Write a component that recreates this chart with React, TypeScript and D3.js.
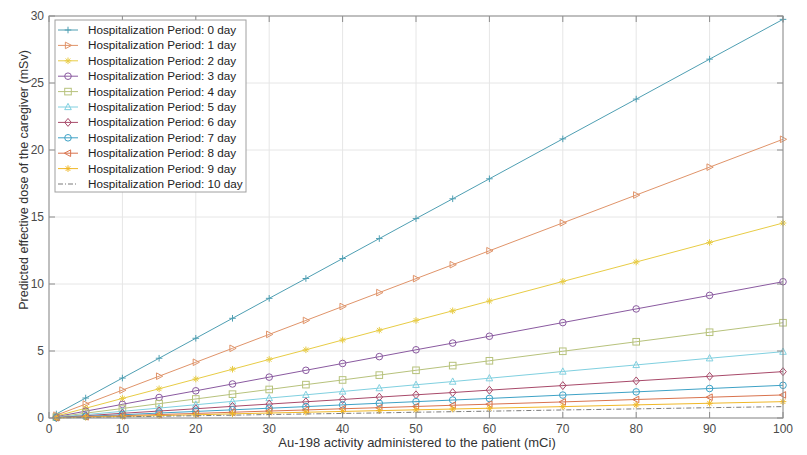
import React from "react";
import * as d3 from "d3";

const xValues = [1, 5, 10, 15, 20, 25, 30, 35, 40, 45, 50, 55, 60, 70, 80, 90, 100];

const day0 = [0.30, 1.49, 2.98, 4.46, 5.95, 7.44, 8.93, 10.41, 11.90, 13.39, 14.88, 16.36, 17.85, 20.83, 23.80, 26.78, 29.75];
const day1 = [0.21, 1.04, 2.08, 3.12, 4.16, 5.20, 6.24, 7.28, 8.32, 9.36, 10.40, 11.44, 12.48, 14.56, 16.64, 18.72, 20.80];
const day2 = [0.15, 0.73, 1.46, 2.18, 2.91, 3.64, 4.37, 5.09, 5.82, 6.55, 7.28, 8.00, 8.73, 10.19, 11.64, 13.10, 14.55];
const day3 = [0.10, 0.51, 1.02, 1.53, 2.03, 2.54, 3.05, 3.56, 4.07, 4.58, 5.09, 5.59, 6.10, 7.12, 8.14, 9.15, 10.17];
const day4 = [0.07, 0.36, 0.71, 1.07, 1.42, 1.78, 2.13, 2.49, 2.84, 3.20, 3.56, 3.91, 4.27, 4.98, 5.69, 6.40, 7.11];
const day5 = [0.05, 0.25, 0.50, 0.74, 0.99, 1.24, 1.49, 1.73, 1.98, 2.23, 2.48, 2.72, 2.97, 3.47, 3.96, 4.46, 4.95];
const day6 = [0.03, 0.17, 0.35, 0.52, 0.69, 0.87, 1.04, 1.21, 1.38, 1.56, 1.73, 1.90, 2.08, 2.42, 2.77, 3.11, 3.46];
const day7 = [0.02, 0.12, 0.24, 0.37, 0.49, 0.61, 0.73, 0.85, 0.98, 1.10, 1.22, 1.34, 1.46, 1.71, 1.95, 2.20, 2.44];
const day8 = [0.02, 0.09, 0.17, 0.26, 0.34, 0.43, 0.52, 0.60, 0.69, 0.77, 0.86, 0.95, 1.03, 1.20, 1.38, 1.55, 1.72];
const day9 = [0.01, 0.06, 0.12, 0.18, 0.24, 0.31, 0.37, 0.43, 0.49, 0.55, 0.61, 0.67, 0.73, 0.85, 0.98, 1.10, 1.22];
const day10 = [0.01, 0.04, 0.09, 0.13, 0.17, 0.21, 0.26, 0.30, 0.34, 0.38, 0.43, 0.47, 0.51, 0.60, 0.68, 0.77, 0.85];

const seriesValues = [day0, day1, day2, day3, day4, day5, day6, day7, day8, day9, day10];
const seriesNames = [
  "Hospitalization Period: 0 day",
  "Hospitalization Period: 1 day",
  "Hospitalization Period: 2 day",
  "Hospitalization Period: 3 day",
  "Hospitalization Period: 4 day",
  "Hospitalization Period: 5 day",
  "Hospitalization Period: 6 day",
  "Hospitalization Period: 7 day",
  "Hospitalization Period: 8 day",
  "Hospitalization Period: 9 day",
  "Hospitalization Period: 10 day",
];
const seriesColors = [
  "#4f9fb3", "#e0946a", "#e8cc45", "#8a5aa0", "#b7c27c", "#80d0e0",
  "#a84a6a", "#3ea2c6", "#d9734e", "#f0b828", "#7a7a7a",
];
const seriesMarkers = ["plus", "tright", "star", "circle", "square", "tup", "diamond", "circle", "tleft", "star", "none"];

const xTicks = [0, 10, 20, 30, 40, 50, 60, 70, 80, 90, 100];
const yTicks = [0, 5, 10, 15, 20, 25, 30];

const W = 807;
const H = 455;
const L = 49, R = 783, T = 16, B = 418;

function Marker({ kind, x, y, color }: { kind: string; x: number; y: number; color: string }) {
  const s = 3.3;
  const common = { fill: "none", stroke: color, strokeWidth: 1 };
  switch (kind) {
    case "plus":
      return <path d={`M${x - s},${y}H${x + s}M${x},${y - s}V${y + s}`} {...common} />;
    case "star":
      return (
        <path
          d={`M${x - s},${y}H${x + s}M${x},${y - s}V${y + s}M${x - s * 0.7},${y - s * 0.7}L${x + s * 0.7},${y + s * 0.7}M${x - s * 0.7},${y + s * 0.7}L${x + s * 0.7},${y - s * 0.7}`}
          {...common}
        />
      );
    case "circle":
      return <circle cx={x} cy={y} r={s} {...common} />;
    case "square":
      return <rect x={x - s} y={y - s} width={2 * s} height={2 * s} {...common} />;
    case "diamond":
      return <path d={`M${x},${y - s * 1.2}L${x + s},${y}L${x},${y + s * 1.2}L${x - s},${y}Z`} {...common} />;
    case "tup":
      return <path d={`M${x},${y - s * 1.1}L${x + s},${y + s * 0.8}L${x - s},${y + s * 0.8}Z`} {...common} />;
    case "tright":
      return <path d={`M${x + s * 1.1},${y}L${x - s * 0.8},${y - s}L${x - s * 0.8},${y + s}Z`} {...common} />;
    case "tleft":
      return <path d={`M${x - s * 1.1},${y}L${x + s * 0.8},${y - s}L${x + s * 0.8},${y + s}Z`} {...common} />;
    default:
      return null;
  }
}

export default function App() {
  const x = d3.scaleLinear().domain([0, 100]).range([L, R]);
  const y = d3.scaleLinear().domain([0, 30]).range([B, T]);
  const line = d3
    .line<number>()
    .x((_, i) => x(xValues[i]))
    .y((d) => y(d));

  const font = "'Liberation Sans', Arial, sans-serif";
  const legX = 55, legY = 20, legW = 191, legH = 172;
  const rowH = 15.4;

  return (
    <svg width={W} height={H} style={{ position: "absolute", left: 0, top: 0, background: "#fff" }} fontFamily={font}>
      <rect x={0} y={0} width={W} height={H} fill="#fff" />
      {/* grid */}
      {xTicks.map((t) => (
        <line key={"gx" + t} x1={x(t)} x2={x(t)} y1={T} y2={B} stroke="#e6e6e6" strokeWidth={1} />
      ))}
      {yTicks.map((t) => (
        <line key={"gy" + t} x1={L} x2={R} y1={y(t)} y2={y(t)} stroke="#e6e6e6" strokeWidth={1} />
      ))}
      {/* series */}
      {seriesValues.map((vals, si) => (
        <g key={"s" + si}>
          <path
            d={line(vals) || ""}
            fill="none"
            stroke={seriesColors[si]}
            strokeWidth={1}
            strokeDasharray={seriesMarkers[si] === "none" ? "5,2,1,2" : undefined}
          />
          {vals.map((v, i) => (
            <Marker key={i} kind={seriesMarkers[si]} x={x(xValues[i])} y={y(v)} color={seriesColors[si]} />
          ))}
        </g>
      ))}
      {/* axes box */}
      <rect x={L} y={T} width={R - L} height={B - T} fill="none" stroke="#8c8c8c" strokeWidth={1} />
      {xTicks.map((t) => (
        <g key={"tx" + t}>
          <line x1={x(t)} x2={x(t)} y1={B} y2={B - 6} stroke="#8c8c8c" />
          <line x1={x(t)} x2={x(t)} y1={T} y2={T + 6} stroke="#8c8c8c" />
          <text x={x(t)} y={B + 15} textAnchor="middle" fontSize={12} fill="#4a4a4a">
            {t}
          </text>
        </g>
      ))}
      {yTicks.map((t) => (
        <g key={"ty" + t}>
          <line x1={L} x2={L + 6} y1={y(t)} y2={y(t)} stroke="#8c8c8c" />
          <line x1={R} x2={R - 6} y1={y(t)} y2={y(t)} stroke="#8c8c8c" />
          <text x={L - 5} y={y(t) + 4} textAnchor="end" fontSize={12} fill="#4a4a4a">
            {t}
          </text>
        </g>
      ))}
      {/* axis labels */}
      <text x={417} y={447} textAnchor="middle" fontSize={13} fill="#333">
        Au-198 activity administered to the patient (mCi)
      </text>
      <text
        transform={`translate(28,180) rotate(-90)`}
        textAnchor="middle"
        fontSize={12.5}
        fill="#333"
      >
        Predicted effective dose of the caregiver (mSv)
      </text>
      {/* legend */}
      <rect x={legX} y={legY} width={legW} height={legH} fill="#fff" stroke="#a0a0a0" strokeWidth={1} />
      {seriesNames.map((name, i) => {
        const cy = legY + 10 + i * rowH;
        return (
          <g key={"l" + i}>
            <line
              x1={legX + 3}
              x2={legX + 23}
              y1={cy}
              y2={cy}
              stroke={seriesColors[i]}
              strokeWidth={1}
              strokeDasharray={seriesMarkers[i] === "none" ? "5,2,1,2" : undefined}
            />
            <Marker kind={seriesMarkers[i]} x={legX + 13} y={cy} color={seriesColors[i]} />
            <text x={legX + 33} y={cy + 4} fontSize={11.7} fill="#222">
              {name}
            </text>
          </g>
        );
      })}
    </svg>
  );
}
